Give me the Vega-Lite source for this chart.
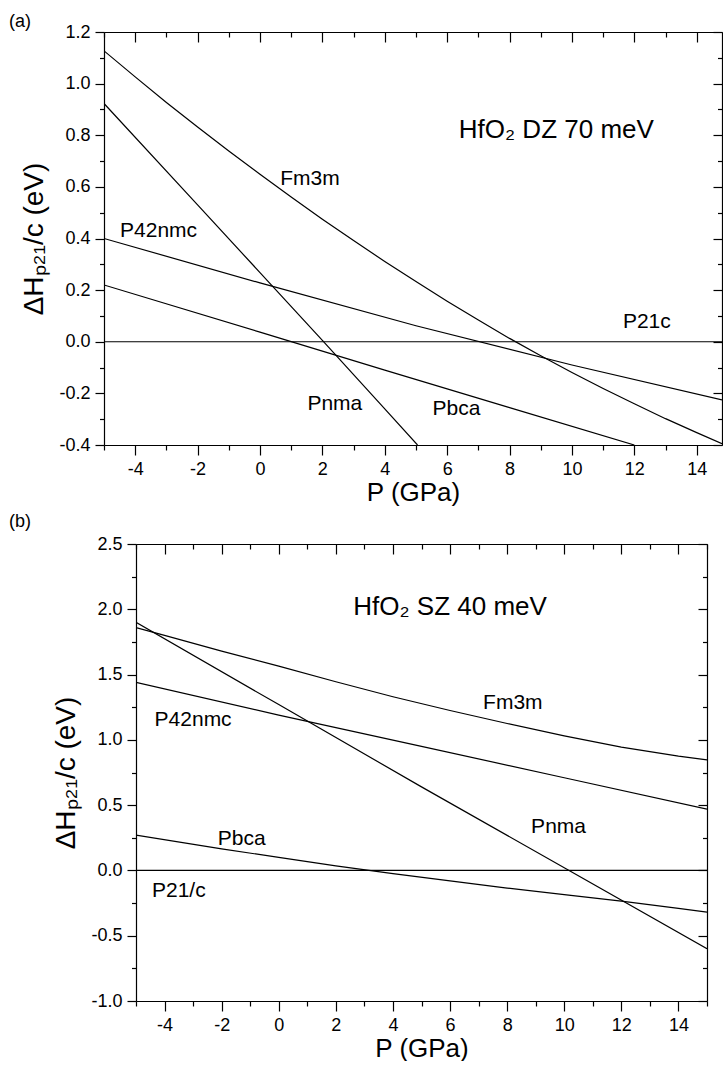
{
  "$schema": "https://vega.github.io/schema/vega-lite/v6.json",
  "padding": {"left": 8, "top": 13, "right": 0, "bottom": 0},
  "spacing": 99,
  "bounds": "flush",
  "datasets": {
    "linesA": [
      {"series": "Fm3m", "P": -5, "dH": 1.127}, {"series": "Fm3m", "P": -4, "dH": 1.026}, {"series": "Fm3m", "P": -3, "dH": 0.927},
      {"series": "Fm3m", "P": -2, "dH": 0.832}, {"series": "Fm3m", "P": -1, "dH": 0.739}, {"series": "Fm3m", "P": 0, "dH": 0.649},
      {"series": "Fm3m", "P": 1, "dH": 0.561}, {"series": "Fm3m", "P": 2, "dH": 0.475}, {"series": "Fm3m", "P": 3, "dH": 0.392},
      {"series": "Fm3m", "P": 4, "dH": 0.311}, {"series": "Fm3m", "P": 5, "dH": 0.233}, {"series": "Fm3m", "P": 6, "dH": 0.157},
      {"series": "Fm3m", "P": 7, "dH": 0.084}, {"series": "Fm3m", "P": 8, "dH": 0.013}, {"series": "Fm3m", "P": 9, "dH": -0.054},
      {"series": "Fm3m", "P": 10, "dH": -0.119}, {"series": "Fm3m", "P": 11, "dH": -0.181}, {"series": "Fm3m", "P": 12, "dH": -0.24},
      {"series": "Fm3m", "P": 13, "dH": -0.298}, {"series": "Fm3m", "P": 14, "dH": -0.352}, {"series": "Fm3m", "P": 14.81, "dH": -0.395},
      {"series": "Pnma", "P": -5, "dH": 0.923}, {"series": "Pnma", "P": -2, "dH": 0.53}, {"series": "Pnma", "P": 0, "dH": 0.268},
      {"series": "Pnma", "P": 2, "dH": 0.005}, {"series": "Pnma", "P": 4, "dH": -0.26}, {"series": "Pnma", "P": 5.05, "dH": -0.4},
      {"series": "P42nmc", "P": -5, "dH": 0.4}, {"series": "P42nmc", "P": 0, "dH": 0.228}, {"series": "P42nmc", "P": 5, "dH": 0.062},
      {"series": "P42nmc", "P": 10, "dH": -0.09}, {"series": "P42nmc", "P": 14.81, "dH": -0.225},
      {"series": "Pbca", "P": -5, "dH": 0.22}, {"series": "Pbca", "P": 0, "dH": 0.037}, {"series": "Pbca", "P": 4, "dH": -0.11},
      {"series": "Pbca", "P": 8, "dH": -0.255}, {"series": "Pbca", "P": 12, "dH": -0.4}
    ],
    "zeroA": [{"series": "P21c", "P": -5, "dH": 0}, {"series": "P21c", "P": 14.81, "dH": 0}],
    "labelsA": [
      {"label": "Fm3m", "P": 1.6, "dH": 0.63},
      {"label": "P42nmc", "P": -3.25, "dH": 0.43},
      {"label": "P21c", "P": 12.4, "dH": 0.075},
      {"label": "Pnma", "P": 2.4, "dH": -0.24},
      {"label": "Pbca", "P": 6.3, "dH": -0.26}
    ],
    "noteA": [{"label": "HfO₂ DZ 70 meV", "P": 9.5, "dH": 0.82}],
    "linesB": [
      {"series": "Fm3m", "P": -5, "dH": 1.86}, {"series": "Fm3m", "P": -4, "dH": 1.8}, {"series": "Fm3m", "P": -2, "dH": 1.68},
      {"series": "Fm3m", "P": 0, "dH": 1.565}, {"series": "Fm3m", "P": 2, "dH": 1.445}, {"series": "Fm3m", "P": 4, "dH": 1.33},
      {"series": "Fm3m", "P": 6, "dH": 1.225}, {"series": "Fm3m", "P": 8, "dH": 1.125}, {"series": "Fm3m", "P": 10, "dH": 1.03},
      {"series": "Fm3m", "P": 12, "dH": 0.945}, {"series": "Fm3m", "P": 14, "dH": 0.875}, {"series": "Fm3m", "P": 15, "dH": 0.846},
      {"series": "Pnma", "P": -5, "dH": 1.9}, {"series": "Pnma", "P": 0, "dH": 1.27}, {"series": "Pnma", "P": 5, "dH": 0.64},
      {"series": "Pnma", "P": 10, "dH": 0.02}, {"series": "Pnma", "P": 15, "dH": -0.6},
      {"series": "P42nmc", "P": -5, "dH": 1.44}, {"series": "P42nmc", "P": 0, "dH": 1.19}, {"series": "P42nmc", "P": 5, "dH": 0.95},
      {"series": "P42nmc", "P": 10, "dH": 0.71}, {"series": "P42nmc", "P": 15, "dH": 0.47},
      {"series": "Pbca", "P": -5, "dH": 0.27}, {"series": "Pbca", "P": -2, "dH": 0.165}, {"series": "Pbca", "P": 0, "dH": 0.1},
      {"series": "Pbca", "P": 2, "dH": 0.035}, {"series": "Pbca", "P": 4, "dH": -0.025}, {"series": "Pbca", "P": 6, "dH": -0.08},
      {"series": "Pbca", "P": 8, "dH": -0.135}, {"series": "Pbca", "P": 10, "dH": -0.185}, {"series": "Pbca", "P": 12, "dH": -0.235},
      {"series": "Pbca", "P": 14, "dH": -0.29}, {"series": "Pbca", "P": 15, "dH": -0.32}
    ],
    "zeroB": [{"series": "P21/c", "P": -5, "dH": 0}, {"series": "P21/c", "P": 15, "dH": 0}],
    "labelsB": [
      {"label": "Fm3m", "P": 8.2, "dH": 1.28},
      {"label": "P42nmc", "P": -3.0, "dH": 1.15},
      {"label": "Pbca", "P": -1.3, "dH": 0.24},
      {"label": "Pnma", "P": 9.8, "dH": 0.33},
      {"label": "P21/c", "P": -3.5, "dH": -0.16}
    ],
    "noteB": [{"label": "HfO₂ SZ 40 meV", "P": 6.0, "dH": 2.02}]
  },
  "vconcat": [
    {
      "title": {"text": "(a)", "anchor": "start", "frame": "bounds", "offset": -8, "dx": -12, "fontSize": 18, "fontWeight": "normal", "font": "Liberation Sans"},
      "width": 618,
      "height": 413,
      "resolve": {"axis": {"x": "independent", "y": "independent"}},
      "layer": [
        {
          "data": {"name": "linesA"},
          "mark": {"type": "line", "color": "black", "strokeWidth": 1.2, "clip": true},
          "encoding": {
            "x": {"field": "P", "type": "quantitative", "scale": {"domain": [-5, 14.81], "nice": false, "zero": false},
              "axis": {"orient": "bottom", "values": [-4, -2, 0, 2, 4, 6, 8, 10, 12, 14], "tickSize": 10, "labelPadding": 5, "labelExpr": "replace(format(datum.value, 'd'), '−', '-')", "title": "P (GPa)", "titlePadding": 1, "titleFontSize": 26}},
            "y": {"field": "dH", "type": "quantitative", "scale": {"domain": [-0.4, 1.2], "nice": false, "zero": false},
              "axis": {"orient": "left", "values": [-0.4, -0.2, 0, 0.2, 0.4, 0.6, 0.8, 1.0, 1.2], "tickSize": 9, "labelPadding": 5, "labelExpr": "replace(format(datum.value, '.1f'), '−', '-')", "title": "ΔHₚ₂₁/c (eV)", "titlePadding": 10, "titleFontSize": 28}},
            "detail": {"field": "series"}
          }
        },
        {
          "data": {"name": "zeroA"},
          "mark": {"type": "line", "color": "black", "strokeWidth": 1.2, "clip": true},
          "encoding": {
            "x": {"field": "P", "type": "quantitative", "scale": {"domain": [-5, 14.81], "nice": false, "zero": false},
              "axis": {"orient": "bottom", "values": [-5, -3, -1, 1, 3, 5, 7, 9, 11, 13], "tickSize": 5, "labels": false, "domain": false, "title": null}},
            "y": {"field": "dH", "type": "quantitative", "scale": {"domain": [-0.4, 1.2], "nice": false, "zero": false},
              "axis": {"orient": "left", "values": [-0.3, -0.1, 0.1, 0.3, 0.5, 0.7, 0.9, 1.1], "tickSize": 4.5, "labels": false, "domain": false, "title": null}}
          }
        },
        {
          "data": {"name": "labelsA"},
          "mark": {"type": "text", "align": "center", "baseline": "middle", "fontSize": 21, "font": "Liberation Sans", "color": "black"},
          "encoding": {
            "x": {"field": "P", "type": "quantitative", "scale": {"domain": [-5, 14.81], "nice": false, "zero": false},
              "axis": {"orient": "top", "values": [-4, -2, 0, 2, 4, 6, 8, 10, 12, 14], "tickSize": -10, "labels": false, "domain": true, "title": null}},
            "y": {"field": "dH", "type": "quantitative", "scale": {"domain": [-0.4, 1.2], "nice": false, "zero": false},
              "axis": {"orient": "right", "values": [-0.4, -0.2, 0, 0.2, 0.4, 0.6, 0.8, 1.0, 1.2], "tickSize": -9, "labels": false, "domain": true, "title": null}},
            "text": {"field": "label"}
          }
        },
        {
          "data": {"name": "noteA"},
          "mark": {"type": "text", "align": "center", "baseline": "middle", "fontSize": 26, "font": "Liberation Sans", "color": "black"},
          "encoding": {
            "x": {"field": "P", "type": "quantitative", "scale": {"domain": [-5, 14.81], "nice": false, "zero": false},
              "axis": {"orient": "top", "values": [-5, -3, -1, 1, 3, 5, 7, 9, 11, 13], "tickSize": -5, "labels": false, "domain": false, "title": null}},
            "y": {"field": "dH", "type": "quantitative", "scale": {"domain": [-0.4, 1.2], "nice": false, "zero": false},
              "axis": {"orient": "right", "values": [-0.3, -0.1, 0.1, 0.3, 0.5, 0.7, 0.9, 1.1], "tickSize": -4.5, "labels": false, "domain": false, "title": null}},
            "text": {"field": "label"}
          }
        }
      ]
    },
    {
      "spacing": 0,
      "bounds": "flush",
      "hconcat": [
        {"width": 32, "height": 10, "data": {"values": []}, "mark": {"type": "point", "opacity": 0}},
        {
          "title": {"text": "(b)", "anchor": "start", "frame": "bounds", "offset": 4, "dx": -44, "fontSize": 18, "fontWeight": "normal", "font": "Liberation Sans"},
          "width": 571,
          "height": 457,
          "resolve": {"axis": {"x": "independent", "y": "independent"}},
          "layer": [
            {
              "data": {"name": "linesB"},
              "mark": {"type": "line", "color": "black", "strokeWidth": 1.2, "clip": true},
              "encoding": {
                "x": {"field": "P", "type": "quantitative", "scale": {"domain": [-5, 15], "nice": false, "zero": false},
                  "axis": {"orient": "bottom", "values": [-4, -2, 0, 2, 4, 6, 8, 10, 12, 14], "tickSize": 10, "labelPadding": 5, "labelExpr": "replace(format(datum.value, 'd'), '−', '-')", "title": "P (GPa)", "titlePadding": 1, "titleFontSize": 26}},
                "y": {"field": "dH", "type": "quantitative", "scale": {"domain": [-1, 2.5], "nice": false, "zero": false},
                  "axis": {"orient": "left", "values": [-1, -0.5, 0, 0.5, 1, 1.5, 2, 2.5], "tickSize": 9, "labelPadding": 5, "labelExpr": "replace(format(datum.value, '.1f'), '−', '-')", "title": "ΔHₚ₂₁/c (eV)", "titlePadding": 10, "titleFontSize": 28}},
                "detail": {"field": "series"}
              }
            },
            {
              "data": {"name": "zeroB"},
              "mark": {"type": "line", "color": "black", "strokeWidth": 1.2, "clip": true},
              "encoding": {
                "x": {"field": "P", "type": "quantitative", "scale": {"domain": [-5, 15], "nice": false, "zero": false},
                  "axis": {"orient": "bottom", "values": [-5, -3, -1, 1, 3, 5, 7, 9, 11, 13, 15], "tickSize": 5, "labels": false, "domain": false, "title": null}},
                "y": {"field": "dH", "type": "quantitative", "scale": {"domain": [-1, 2.5], "nice": false, "zero": false},
                  "axis": {"orient": "left", "values": [-0.75, -0.25, 0.25, 0.75, 1.25, 1.75, 2.25], "tickSize": 4.5, "labels": false, "domain": false, "title": null}}
              }
            },
            {
              "data": {"name": "labelsB"},
              "mark": {"type": "text", "align": "center", "baseline": "middle", "fontSize": 21, "font": "Liberation Sans", "color": "black"},
              "encoding": {
                "x": {"field": "P", "type": "quantitative", "scale": {"domain": [-5, 15], "nice": false, "zero": false},
                  "axis": {"orient": "top", "values": [-4, -2, 0, 2, 4, 6, 8, 10, 12, 14], "tickSize": -10, "labels": false, "domain": true, "title": null}},
                "y": {"field": "dH", "type": "quantitative", "scale": {"domain": [-1, 2.5], "nice": false, "zero": false},
                  "axis": {"orient": "right", "values": [-1, -0.5, 0, 0.5, 1, 1.5, 2, 2.5], "tickSize": -9, "labels": false, "domain": true, "title": null}},
                "text": {"field": "label"}
              }
            },
            {
              "data": {"name": "noteB"},
              "mark": {"type": "text", "align": "center", "baseline": "middle", "fontSize": 26, "font": "Liberation Sans", "color": "black"},
              "encoding": {
                "x": {"field": "P", "type": "quantitative", "scale": {"domain": [-5, 15], "nice": false, "zero": false},
                  "axis": {"orient": "top", "values": [-5, -3, -1, 1, 3, 5, 7, 9, 11, 13, 15], "tickSize": -5, "labels": false, "domain": false, "title": null}},
                "y": {"field": "dH", "type": "quantitative", "scale": {"domain": [-1, 2.5], "nice": false, "zero": false},
                  "axis": {"orient": "right", "values": [-0.75, -0.25, 0.25, 0.75, 1.25, 1.75, 2.25], "tickSize": -4.5, "labels": false, "domain": false, "title": null}},
                "text": {"field": "label"}
              }
            }
          ]
        }
      ]
    }
  ],
  "config": {
    "font": "Liberation Sans",
    "view": {"stroke": null},
    "axis": {
      "grid": false,
      "domainColor": "black",
      "tickColor": "black",
      "labelColor": "black",
      "titleColor": "black",
      "labelFont": "Liberation Sans",
      "titleFont": "Liberation Sans",
      "titleFontWeight": "normal",
      "labelFontSize": 18,
      "titleFontSize": 26,
      "domainWidth": 1.2,
      "tickWidth": 1.2
    }
  }
}
